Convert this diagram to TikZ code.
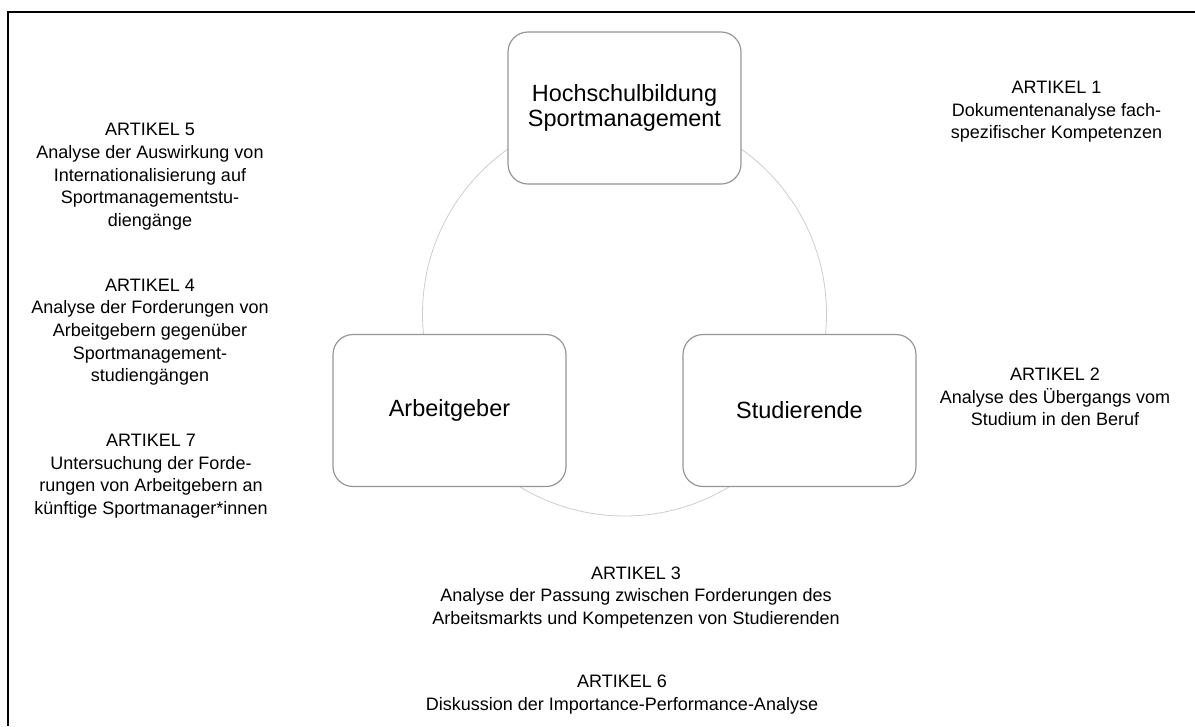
\documentclass[tikz,border=0pt]{standalone}
\usepackage{fontspec}
\setmainfont{Liberation Sans}
\definecolor{boxline}{RGB}{150,150,150}
\definecolor{ringline}{RGB}{205,205,205}

\begin{document}
\begin{tikzpicture}[x=0.75pt,y=-0.75pt,
  pillar/.style={draw=boxline, line width=0.9pt, fill=white, rounded corners=15pt,
    minimum width=174.75pt, minimum height=114pt, align=center,
    font=\fontsize{17.6}{18.8}\selectfont},
  artikel/.style={align=center, inner sep=0pt, font=\fontsize{13.5}{17}\selectfont}]
\useasboundingbox (0,0) rectangle (1195,726);
\draw[line width=1.5pt] (8,726) -- (8,12) -- (1195,12);

\node[draw=ringline, line width=0.6pt, circle, minimum size=303pt, inner sep=0pt] (ring) at (624.5,314) {};
\node[pillar] (hochschule) at (624.5,108) {Hochschulbildung\\Sportmanagement};
\node[pillar] (arbeitgeber) at (449.5,410.5) {Arbeitgeber};
\node[pillar] (studierende) at (799.5,410.5) {Studierende};

\node[artikel] (art1) at (1056.5,112) {ARTIKEL 1\\Dokumentenanalyse fach-\\spezifischer Kompetenzen};
\node[artikel] (art2) at (1055,397) {ARTIKEL 2\\Analyse des Übergangs vom\\Studium in den Beruf};
\node[artikel] (art3) at (636,597.5) {ARTIKEL 3\\Analyse der Passung zwischen Forderungen des\\Arbeitsmarkts und Kompetenzen von Studierenden};
\node[artikel] (art6) at (622,694.5) {ARTIKEL 6\\Diskussion der Importance-Performance-Analyse};
\node[artikel] (art5) at (150,177) {ARTIKEL 5\\Analyse der Auswirkung von\\Internationalisierung auf\\Sportmanagementstu-\\diengänge};
\node[artikel] (art4) at (150,332) {ARTIKEL 4\\Analyse der Forderungen von\\Arbeitgebern gegenüber\\Sportmanagement-\\studiengängen};
\node[artikel] (art7) at (151,476) {ARTIKEL 7\\Untersuchung der Forde-\\rungen von Arbeitgebern an\\künftige Sportmanager*innen};
\end{tikzpicture}
\end{document}
